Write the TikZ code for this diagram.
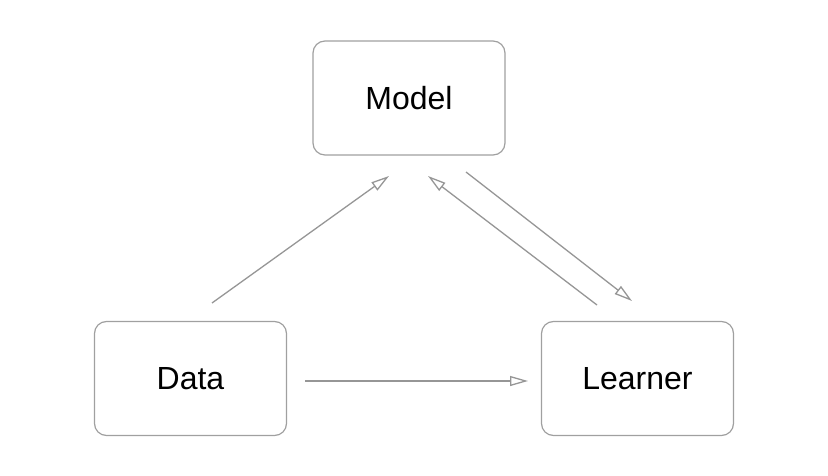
\documentclass[tikz,border=0pt]{standalone}
\usepackage{fontspec}
\setmainfont{Liberation Sans}
\usetikzlibrary{arrows.meta}
\definecolor{edgegray}{RGB}{150,150,150}
\definecolor{boxgray}{RGB}{160,160,160}
\begin{document}
\begin{tikzpicture}[x=1pt,y=-1pt,
  box/.style={draw=boxgray,line width=1.2pt,rounded corners=12pt,minimum width=192pt,minimum height=114pt,inner sep=0pt,font=\fontsize{32}{38}\selectfont},
  conn/.style={draw=edgegray,line width=1.3pt,-{Triangle[open,length=18pt,width=10pt]}}]
\useasboundingbox (0,0) rectangle (828,476);
\node[box] (model) at (409,98) {\raisebox{-2pt}{Model}};
\node[box] (data) at (190.5,378.5) {\raisebox{-2pt}{Data}};
\node[box] (learner) at (637.5,378.5) {\raisebox{-2pt}{Learner}};
\coordinate (d1) at (212,303); \coordinate (m1) at (389,176);
\coordinate (m2) at (466,172); \coordinate (l2) at (632,301);
\coordinate (l3) at (597,305); \coordinate (m3) at (428,176);
\coordinate (d4) at (305,381); \coordinate (l4) at (528,381);
\draw[conn] (d1) -- (m1);
\draw[conn] (m2) -- (l2);
\draw[conn] (l3) -- (m3);
\draw[conn] (d4) -- (l4);
\end{tikzpicture}
\end{document}
